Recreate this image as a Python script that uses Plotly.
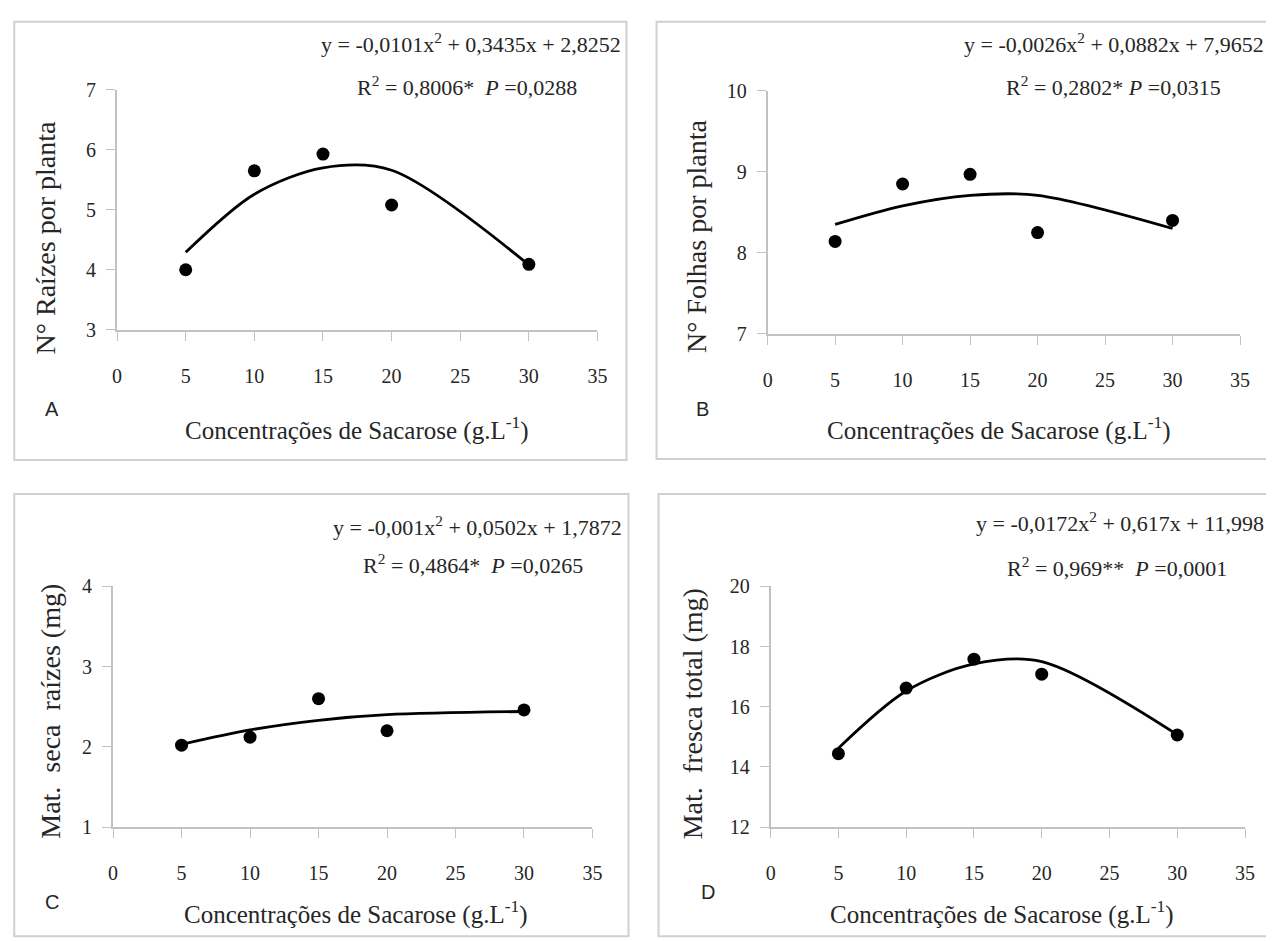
import plotly.graph_objects as go

# ---------------- data ----------------
sacarose = [5, 10, 15, 20, 30]

raizes = [4.00, 5.65, 5.93, 5.08, 4.09]
raizes_fit = [4.29, 5.26, 5.70, 5.66, 4.08]

folhas = [8.14, 8.85, 8.97, 8.25, 8.40]
folhas_fit = [8.35, 8.58, 8.71, 8.71, 8.30]

seca = [2.02, 2.12, 2.60, 2.20, 2.46]
seca_fit = [2.03, 2.21, 2.33, 2.40, 2.44]

fresca = [14.44, 16.62, 17.58, 17.08, 15.06]
fresca_fit = [14.62, 16.52, 17.42, 17.50, 15.07]

x_ticks = [0, 5, 10, 15, 20, 25, 30, 35]
ticks_A = [3, 4, 5, 6, 7]
ticks_B = [7, 8, 9, 10]
ticks_C = [1, 2, 3, 4]
ticks_D = [12, 14, 16, 18, 20]

eq_A = "y = -0,0101x<sup>2</sup> + 0,3435x + 2,8252"
r2_A = "R<sup>2</sup> = 0,8006*  <i>P</i> =0,0288"
eq_B = "y = -0,0026x<sup>2</sup> + 0,0882x + 7,9652"
r2_B = "R<sup>2</sup> = 0,2802* <i>P</i> =0,0315"
eq_C = "y = -0,001x<sup>2</sup> + 0,0502x + 1,7872"
r2_C = "R<sup>2</sup> = 0,4864*  <i>P</i> =0,0265"
eq_D = "y = -0,0172x<sup>2</sup> + 0,617x + 11,998"
r2_D = "R<sup>2</sup> = 0,969**  <i>P</i> =0,0001"

x_title = "Concentrações de Sacarose (g.L<sup>-1</sup>)"
y_titles = ["N° Raízes por planta", "N° Folhas por planta",
            "Mat.  seca  raízes (mg)", "Mat.  fresca total (mg)"]
letters = ["A", "B", "C", "D"]

W, H = 1274, 941
SERIF = "Liberation Serif"
SANS = "Liberation Sans"
TXT = "#262626"
AXC = "#c2c2c2"

# the page shows the figure slightly shrunk and offset; map reference pixels to paper
OX, SX = 10.0, 0.9874
OY, SY = 11.0, 0.983


def px(x, hi=0.999):
    x2 = x - 2
    return min(hi, max(0.001, ((x2 - OX) / SX) / W))


def py(y, hi=0.999):
    y2 = y - (10 - 8 * (y - 45) / 855)
    return min(hi, max(0.002, 1 - ((y2 - OY) / SY) / H))


panels = [
    dict(x0=116, x1=596, yb=331, yt=92, yr=[3, 7], yt_vals=ticks_A, d=raizes, f=raizes_fit,
         eq=eq_A, r2=r2_A, eqx=621, eqy=45, r2x=466, r2y=88,
         letx=51, lety=410, xtx=356, xty=430, ytx=44, yty=240,
         frame=(10, 13, 625, 461)),
    dict(x0=766, x1=1238, yb=335, yt=93, yr=[7, 10], yt_vals=ticks_B, d=folhas, f=folhas_fit,
         eq=eq_B, r2=r2_B, eqx=1264, eqy=45, r2x=1112, r2y=88,
         letx=701, lety=410, xtx=997, xty=430, ytx=695, yty=238,
         frame=(655, 12, 1270, 460)),
    dict(x0=112, x1=591, yb=827, yt=587, yr=[1, 4], yt_vals=ticks_C, d=seca, f=seca_fit,
         eq=eq_C, r2=r2_C, eqx=622, eqy=527, r2x=472, r2y=565,
         letx=51, lety=902, xtx=355, xty=912, ytx=50, yty=712,
         frame=(13, 495, 627, 938)),
    dict(x0=769, x1=1243, yb=827, yt=587, yr=[12, 20], yt_vals=ticks_D, d=fresca, f=fresca_fit,
         eq=eq_D, r2=r2_D, eqx=1264, eqy=523, r2x=1115, r2y=568,
         letx=706, lety=892, xtx=1000, xty=912, ytx=691, yty=714,
         frame=(657, 495, 1268, 938)),
]

fig = go.Figure()
layout = dict(
    width=W, height=H, margin=dict(l=0, r=0, t=0, b=0),
    paper_bgcolor="white", plot_bgcolor="white", showlegend=False,
    annotations=[], shapes=[],
)

for i, p in enumerate(panels):
    n = "" if i == 0 else str(i + 1)
    xa, ya = "x" + n, "y" + n
    fig.add_trace(go.Scatter(x=sacarose, y=p["f"], mode="lines",
                             line=dict(color="black", width=2.8, shape="spline", smoothing=0.9),
                             xaxis=xa, yaxis=ya, hoverinfo="skip"))
    fig.add_trace(go.Scatter(x=sacarose, y=p["d"], mode="markers",
                             marker=dict(color="black", size=13),
                             xaxis=xa, yaxis=ya))
    layout["xaxis" + n] = dict(
        domain=[px(p["x0"]), px(p["x1"])], range=[0, 35], anchor=ya,
        tickvals=x_ticks, ticks="outside", ticklen=9, tickwidth=1.2, tickcolor=AXC,
        showline=True, linecolor=AXC, linewidth=2, showgrid=False, zeroline=False,
        tickfont=dict(family=SERIF, size=20, color=TXT), ticklabelstandoff=18,
    )
    layout["yaxis" + n] = dict(
        domain=[py(p["yb"]), py(p["yt"])], range=p["yr"], anchor=xa,
        tickvals=p["yt_vals"], ticks="outside", ticklen=9, tickwidth=1.2, tickcolor=AXC,
        showline=True, linecolor=AXC, linewidth=2, showgrid=False, zeroline=False,
        tickfont=dict(family=SERIF, size=20, color=TXT), ticklabelstandoff=6,
    )
    fx0, fy0, fx1, fy1 = p["frame"]
    layout["shapes"].append(dict(type="rect", xref="paper", yref="paper",
                                 x0=px(fx0), x1=px(fx1, hi=0.997),
                                 y0=py(fy1), y1=py(fy0, hi=0.997),
                                 line=dict(color="#d0d0d0", width=2), layer="below"))
    ann = layout["annotations"]
    ann.append(dict(text=p["eq"], x=px(p["eqx"]), y=py(p["eqy"]), xref="paper", yref="paper",
                    xanchor="right", yanchor="middle", showarrow=False,
                    font=dict(family=SERIF, size=22, color=TXT)))
    ann.append(dict(text=p["r2"], x=px(p["r2x"]), y=py(p["r2y"]), xref="paper", yref="paper",
                    xanchor="center", yanchor="middle", showarrow=False,
                    font=dict(family=SERIF, size=22, color=TXT)))
    ann.append(dict(text=letters[i], x=px(p["letx"]), y=py(p["lety"]), xref="paper", yref="paper",
                    xanchor="center", yanchor="middle", showarrow=False,
                    font=dict(family=SANS, size=20, color=TXT)))
    ann.append(dict(text=x_title, x=px(p["xtx"]), y=py(p["xty"]), xref="paper", yref="paper",
                    xanchor="center", yanchor="middle", showarrow=False,
                    font=dict(family=SERIF, size=25, color=TXT)))
    ann.append(dict(text=y_titles[i], x=px(p["ytx"]), y=py(p["yty"]), xref="paper", yref="paper",
                    xanchor="center", yanchor="middle", showarrow=False, textangle=-90,
                    font=dict(family=SERIF, size=28, color=TXT)))

fig.update_layout(**layout)
fig.write_html("out.html", config={"displayModeBar": False})
